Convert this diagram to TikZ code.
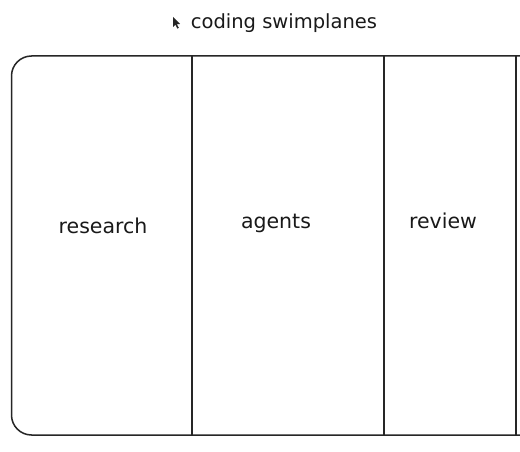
\documentclass[tikz,border=0pt]{standalone}
\usepackage{fontspec}
\setmainfont{DejaVu Sans}
\begin{document}
\begin{tikzpicture}[x=1pt,y=-1pt,
  frame/.style={draw=black!85,line width=1.5pt},
  lane/.style={font=\fontsize{20.5}{24}\selectfont,text=black!90}]
\useasboundingbox[fill=white] (0,0) rectangle (520,452);
% cursor mark
\fill[black!85] (173,17) -- (173,27) -- (175.4,24.8) -- (177.4,28.6) -- (178.8,27.8) -- (176.9,24.2) -- (180,24) -- cycle;
\node[lane,font=\fontsize{19.5}{24}\selectfont] (title) at (284,23) {coding swimplanes};
% frame
\draw[frame,rounded corners=20pt] (521,56) -- (11.5,56) -- (11.5,435) -- (521,435);
\coordinate (d1t) at (192,56); \coordinate (d1b) at (192,435);
\coordinate (d2t) at (384,56); \coordinate (d2b) at (384,435);
\coordinate (d3t) at (516,56); \coordinate (d3b) at (516,435);
\draw[frame] (d1t) -- (d1b);
\draw[frame] (d2t) -- (d2b);
\draw[frame] (d3t) -- (d3b);
\node[lane] (research) at (103,226) {research};
\node[lane] (agents) at (276,223) {agents};
\node[lane] (review) at (443,221) {review};
\end{tikzpicture}
\end{document}
